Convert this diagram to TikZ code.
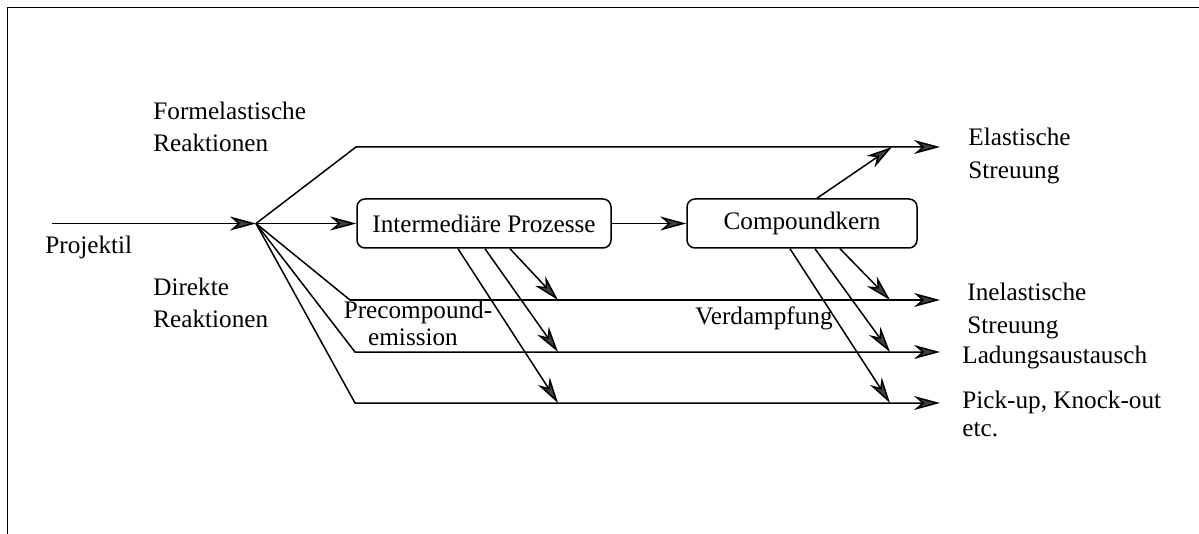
\documentclass[tikz,border=0pt]{standalone}
\usepackage{fontspec}
\setmainfont{Liberation Serif}
\usetikzlibrary{arrows.meta,calc}
\begin{document}
\begin{tikzpicture}[x=0.5pt,y=-0.5pt,
  font=\fontsize{12.6}{15}\selectfont,
  line/.style={line width=0.75pt},
  arr/.style={line, -{Stealth[length=13pt,width=7pt,inset=4pt,fill=black!75]}},
  box/.style={draw, line width=0.75pt, rounded corners=4pt, minimum height=24.5pt, inner sep=0pt},
  lbl/.style={anchor=base west, inner sep=0pt},
  clbl/.style={anchor=base, inner sep=0pt}]
\useasboundingbox (0,0) rectangle (1199,534);
% frame
\draw[line width=0.6pt] (7.5,534) -- (7.5,7.5) -- (1199,7.5);

% boxes
\node[box, minimum width=127pt] (ip) at (484,223.5) {Intermediäre Prozesse};
\node[box, minimum width=115pt] (ck) at (802,223.5) {Compoundkern};

% coordinates
\coordinate (start) at (52,223.5);
\coordinate (hub) at (256,223.5);
\coordinate (c1) at (356,147);
\coordinate (c2) at (350,300);
\coordinate (c3) at (355,352);
\coordinate (c4) at (355,403);
\coordinate (e1) at (940,147);
\coordinate (e2) at (940,300);
\coordinate (e3) at (940,352);
\coordinate (e4) at (940,403);
\coordinate (i2) at (558,300);
\coordinate (i3) at (558,352);
\coordinate (i4) at (558,403);
\coordinate (k1) at (892,147);
\coordinate (k2) at (890,300);
\coordinate (k3) at (890,352);
\coordinate (k4) at (890,403);

% main arrows
\draw[arr] (start) -- (hub);
\draw[arr] (hub) -- (ip);
\draw[arr] (ip) -- (ck);
\draw[arr] (hub) -- (c1) -- (e1);
\draw[arr] (hub) -- (c2) -- (e2);
\draw[arr] (hub) -- (c3) -- (e3);
\draw[arr] (hub) -- (c4) -- (e4);

% from intermediate processes
\draw[arr] ($(ip.south)+(26,0)$) -- (i2);
\draw[arr] ($(ip.south)+(1,0)$) -- (i3);
\draw[arr] ($(ip.south)+(-26,0)$) -- (i4);

% from compound nucleus
\draw[arr] ($(ck.north)+(15,0)$) -- (k1);
\draw[arr] ($(ck.south)+(38,0)$) -- (k2);
\draw[arr] ($(ck.south)+(13,0)$) -- (k3);
\draw[arr] ($(ck.south)+(-12,0)$) -- (k4);

% labels
\node[lbl] (proj) at (45,254) {Projektil};
\node[lbl] (form1) at (153,120) {Formelastische};
\node[lbl] (form2) at (153,152) {Reaktionen};
\node[lbl] (dir1) at (153,295) {Direkte};
\node[lbl] (dir2) at (153,328) {Reaktionen};
\node[lbl] (el1) at (968,146) {Elastische};
\node[lbl] (el2) at (968,179) {Streuung};
\node[lbl] (inel1) at (967,300) {Inelastische};
\node[lbl] (inel2) at (967,334) {Streuung};
\node[lbl] (lad) at (962,363) {Ladungsaustausch};
\node[lbl] (pick1) at (962,408) {Pick-up, Knock-out};
\node[lbl] (pick2) at (962,436) {etc.};
\node[clbl] (pre1) at (418,318) {Precompound-};
\node[clbl] (pre2) at (413,345) {emission};
\node[anchor=base east, inner sep=0pt] (verd) at (833,324) {Verdampfung};
\end{tikzpicture}
\end{document}
